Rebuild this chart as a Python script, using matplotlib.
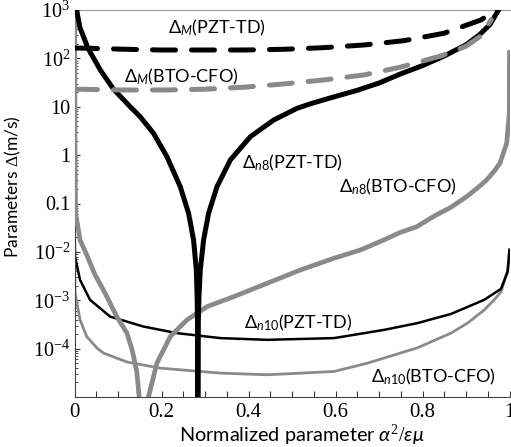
import numpy as np
import matplotlib
matplotlib.use("Agg")
import matplotlib.pyplot as plt
from matplotlib.ticker import FixedLocator, FixedFormatter, MultipleLocator, LogLocator, NullFormatter

plt.rcParams['font.family'] = ['Lato', 'DejaVu Sans']
plt.rcParams['mathtext.fontset'] = 'custom'
plt.rcParams['mathtext.rm'] = 'Liberation Serif'
plt.rcParams['mathtext.it'] = 'Lato:italic'
plt.rcParams['mathtext.sf'] = 'Lato'

# ---- data (x = alpha^2/eps*mu, y = Delta in m/s) ----
dm_pzt_x = [0, 0.03, 0.12, 0.2, 0.3, 0.39, 0.48, 0.57, 0.665, 0.757, 0.849, 0.934, 0.964, 0.975]
dm_pzt_y = [164, 162, 154, 149, 149, 149, 154, 166, 189, 232, 330, 621, 923, 1050]

dm_bto_x = [0, 0.009, 0.112, 0.205, 0.297, 0.389, 0.481, 0.573, 0.665, 0.75, 0.842, 0.90, 0.935, 0.958]
dm_bto_y = [23.4, 23.0, 22.2, 22.2, 23.0, 25.3, 29.6, 35.8, 45.4, 66.1, 112, 178, 295, 631]

n8_pzt_x = [0.005, 0.012, 0.031, 0.06, 0.09, 0.128, 0.1509, 0.1816, 0.2124, 0.2431, 0.2622,
            0.2737, 0.2800, 0.2818, 0.2829, 0.2834, 0.2835,
            0.2836, 0.2838, 0.2845, 0.2862, 0.2892, 0.2968, 0.3083, 0.3276, 0.3583, 0.4044,
            0.4581, 0.512, 0.545, 0.58, 0.65, 0.70, 0.75, 0.80, 0.85, 0.90, 0.93, 0.955, 0.975]
n8_pzt_y = [1000, 447, 162, 56.2, 22.9, 10, 6.24, 2.83, 0.931, 0.223, 0.0631,
            0.0177, 4.25e-3, 1.26e-3, 3.16e-4, 3.16e-5, 5.0e-6,
            5.0e-6, 3.16e-5, 3.16e-4, 1.26e-3, 4.25e-3, 0.0177, 0.0631, 0.223, 0.796, 2.41,
            5.33, 9.31, 11.7, 14.5, 21.9, 30.9, 47.9, 70.8, 112, 191, 302, 501, 1000]

n8_bto_x = [0.0002, 0.0012, 0.0025, 0.0127, 0.0281, 0.0472, 0.0664, 0.0972, 0.1203, 0.1325,
            0.1433, 0.1486, 0.156, 0.170, 0.1894, 0.2202, 0.2587, 0.3048, 0.3664, 0.4433,
            0.52, 0.5968, 0.6578, 0.7115, 0.748, 0.7866, 0.825, 0.865, 0.9016, 0.9276,
            0.9476, 0.965, 0.978, 0.9936, 0.9995, 1.0]
n8_bto_y = [1000, 1.28, 0.064, 0.0177, 0.00867, 0.00335, 0.00164, 4.6e-4, 2.12e-4, 9.4e-5,
            3.3e-5, 1.0e-5, 8.1e-7, 1e-5, 5.0e-5, 1.78e-4, 3.94e-4, 7.4e-4, 1.19e-3, 2.25e-3,
            4.25e-3, 7.4e-3, 0.011, 0.0177, 0.0251, 0.0331, 0.0537, 0.0832, 0.139, 0.214,
            0.308, 0.468, 0.681, 1.76, 7.35, 132]

n10_pzt_x = [0.0005, 0.0012, 0.0127, 0.0357, 0.0818, 0.1585, 0.2355, 0.3353, 0.4429, 0.5965,
             0.7115, 0.7885, 0.8652, 0.9419, 0.9804, 0.9958, 1.0]
n10_pzt_y = [0.0224, 8.0e-3, 2.64e-3, 1.02e-3, 4.6e-4, 2.86e-4, 2.09e-4, 1.65e-4, 1.52e-4, 1.65e-4,
             2.44e-4, 3.37e-4, 5.2e-4, 1.02e-3, 1.72e-3, 3.86e-3, 0.011]

n10_bto_x = [0.0005, 0.0012, 0.0127, 0.0281, 0.0511, 0.0664, 0.1203, 0.1971, 0.3353, 0.4429,
             0.5965, 0.6733, 0.7885, 0.8652, 0.9035, 0.9419, 0.9649, 0.9804, 0.9958, 1.0]
n10_bto_y = [0.011, 1.42e-3, 3.94e-4, 1.78e-4, 1.04e-4, 8.1e-5, 5.3e-5, 3.95e-5, 3.12e-5, 2.88e-5,
             3.37e-5, 5.0e-5, 1.04e-4, 2.09e-4, 3.37e-4, 6.3e-4, 1.02e-3, 1.49e-3, 4.25e-3, 0.011]

y_ticks = [1e3, 1e2, 1e1, 1, 0.1, 1e-2, 1e-3, 1e-4]
y_ticklabels = ['10$^{3}$', '10$^{2}$', '10', '1', '0.1', '10$^{-2}$', '10$^{-3}$', '10$^{-4}$']
x_ticks = [0, 0.2, 0.4, 0.6, 0.8, 1.0]
x_ticklabels = ['0', '0.2', '0.4', '0.6', '0.8', '1']

GRAY = '#8a8a8a'
SERIF = ['Liberation Serif', 'DejaVu Serif']

fig = plt.figure(figsize=(5.11, 4.47), dpi=100)
ax = fig.add_axes([74.5 / 511, 1 - 397 / 447, 435 / 511, 387 / 447])

# thin curves first, thick ones over them, dashed on top
ax.plot(n10_bto_x, n10_bto_y, color=GRAY, lw=2.0, zorder=2)
ax.plot(n10_pzt_x, n10_pzt_y, color='black', lw=1.8, zorder=2)
ax.plot(n8_bto_x, n8_bto_y, color=GRAY, lw=3.4, zorder=3)
ax.plot(n8_pzt_x, n8_pzt_y, color='black', lw=3.6, zorder=4)
ax.plot(dm_pzt_x, dm_pzt_y, color='black', lw=3.6, linestyle=(0, (4.6, 3.2)),
        dash_capstyle='round', zorder=5)
ax.plot(dm_bto_x, dm_bto_y, color=GRAY, lw=3.6, linestyle=(0, (4.6, 3.2)),
        dash_capstyle='round', zorder=6)

ax.set_yscale('log')
ax.set_xlim(0, 1)
ax.set_ylim(1e-5, 1e3)

ax.yaxis.set_major_locator(FixedLocator(y_ticks))
ax.yaxis.set_major_formatter(FixedFormatter(y_ticklabels))
ax.yaxis.set_minor_locator(LogLocator(base=10, subs=np.arange(2, 10)))
ax.yaxis.set_minor_formatter(NullFormatter())
ax.xaxis.set_major_locator(FixedLocator(x_ticks))
ax.xaxis.set_major_formatter(FixedFormatter(x_ticklabels))
ax.xaxis.set_minor_locator(MultipleLocator(0.05))

ax.tick_params(which='both', direction='in', colors='#333333', labelcolor='black')
ax.tick_params(axis='x', which='both', length=4, width=0.8, pad=4, labelsize=15)
ax.tick_params(axis='y', which='major', length=3.5, width=0.8, pad=3, labelsize=14.5)
ax.tick_params(axis='y', which='minor', length=2, width=0.6)

ax.spines['right'].set_visible(False)
ax.spines['left'].set_color('#444444')
ax.spines['bottom'].set_color('#444444')
ax.spines['top'].set_color('#999999')

ax.set_xlabel(r'Normalized parameter $\alpha^{2}/\varepsilon\mu$', fontsize=14.3)
ax.xaxis.set_label_coords(0.523, -0.066)
ax.set_ylabel(r'Parameters $\mathit{\Delta}$(m/s)', fontsize=12.5)
ax.yaxis.set_label_coords(-0.118, 0.543)

lab = dict(fontsize=13, ha='center', va='center', zorder=7)
ax.text(0.328, 425, r'Δ$_{M}$(PZT-TD)', **lab)
ax.text(0.245, 41.3, r'Δ$_{M}$(BTO-CFO)', **lab)
ax.text(0.501, 0.69, r'Δ$_{n\mathsf{8}}$(PZT-TD)', **lab)
ax.text(0.743, 0.22, r'Δ$_{n\mathsf{8}}$(BTO-CFO)', **lab)
ax.text(0.515, 3.4e-4, r'Δ$_{n\mathsf{10}}$(PZT-TD)', **lab)
ax.text(0.826, 2.6e-5, r'Δ$_{n\mathsf{10}}$(BTO-CFO)', **lab)

fig.canvas.draw()
for t in ax.get_xticklabels() + ax.get_yticklabels():
    t.set_fontfamily(SERIF)

fig.savefig('out.png', dpi=100)
